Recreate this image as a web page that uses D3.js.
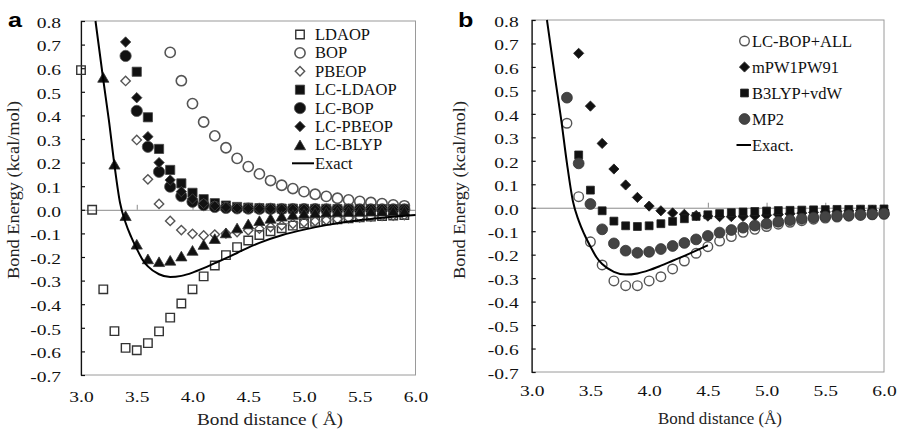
<!DOCTYPE html>
<html>
<head>
<meta charset="utf-8">
<script src="https://cdn.jsdelivr.net/npm/d3@7"></script>
<style>
  body { margin: 0; background: #fff; }
</style>
</head>
<body>
<div class="chart"></div>
<script>
// bond distances (Å), one entry per sampled point
const dist = [3.0, 3.1, 3.2, 3.3, 3.4, 3.5, 3.6, 3.7, 3.8, 3.9, 4.0, 4.1, 4.2, 4.3, 4.4, 4.5,
  4.6, 4.7, 4.8, 4.9, 5.0, 5.1, 5.2, 5.3, 5.4, 5.5, 5.6, 5.7, 5.8, 5.9, 6.0];

// panel a
const ldaop = [0.592, 0.0, -0.337, -0.514, -0.585, -0.595, -0.565, -0.515, -0.457, -0.397, -0.337,
  -0.282, -0.236, -0.192, -0.158, -0.13, -0.107, -0.091, -0.078, -0.067, -0.058, -0.051, -0.045,
  -0.04, -0.036, -0.032, -0.029, -0.026, -0.024, -0.022, null];
const bop = [null, null, null, null, null, null, null, null, 0.667, 0.547, 0.45, 0.372, 0.313, 0.263,
  0.218, 0.183, 0.152, 0.124, 0.104, 0.09, 0.077, 0.066, 0.057, 0.049, 0.042, 0.036, 0.031, 0.026,
  0.021, 0.017, null];
const pbeop = [null, null, null, null, 0.546, 0.296, 0.129, 0.025, -0.047, -0.086, -0.102, -0.109,
  -0.105, -0.1, -0.094, -0.087, -0.08, -0.073, -0.066, -0.059, -0.053, -0.048, -0.043, -0.039,
  -0.035, -0.032, -0.029, -0.026, -0.024, -0.022, null];
const lcLdaop = [null, null, null, null, null, 0.585, 0.392, 0.258, 0.169, 0.112, 0.072, 0.045, 0.028,
  0.018, 0.012, 0.009, 0.007, 0.006, 0.005, 0.005, 0.004, 0.004, 0.004, 0.003, 0.003, 0.003, 0.003,
  0.003, 0.003, 0.003, null];
const lcBop = [null, null, null, null, 0.652, 0.419, 0.267, 0.161, 0.098, 0.058, 0.034, 0.02, 0.012,
  0.008, 0.006, 0.005, 0.004, 0.004, 0.003, 0.003, 0.003, 0.003, 0.002, 0.002, 0.002, 0.002, 0.002,
  0.002, 0.002, 0.002, null];
const lcPbeop = [null, null, null, null, 0.711, 0.475, 0.31, 0.2, 0.126, 0.077, 0.046, 0.027, 0.016,
  0.01, 0.007, 0.005, 0.004, 0.004, 0.003, 0.003, 0.003, 0.003, 0.003, 0.002, 0.002, 0.002, 0.002,
  0.002, 0.002, 0.002, null];
const lcBlyp = [null, null, 0.561, 0.193, -0.025, -0.146, -0.208, -0.22, -0.214, -0.196, -0.172,
  -0.147, -0.122, -0.098, -0.077, -0.06, -0.046, -0.036, -0.027, -0.02, -0.015, -0.012, -0.01,
  -0.009, -0.008, -0.007, -0.006, -0.006, -0.005, -0.005, null];

// panel b
const lcBopAll = [null, null, null, 0.36, 0.047, -0.145, -0.244, -0.312, -0.332, -0.332, -0.312,
  -0.294, -0.261, -0.227, -0.194, -0.166, -0.142, -0.123, -0.105, -0.092, -0.08, -0.07, -0.062,
  -0.055, -0.049, -0.044, -0.04, -0.036, -0.033, -0.03, -0.028];
const mpw1pw91 = [null, null, null, null, 0.658, 0.433, 0.274, 0.165, 0.097, 0.044, 0.007, -0.013,
  -0.022, -0.028, -0.033, -0.036, -0.038, -0.038, -0.037, -0.035, -0.032, -0.029, -0.026, -0.023,
  -0.02, -0.018, -0.016, -0.014, -0.012, -0.011, -0.01];
const b3lypVdw = [null, null, null, null, 0.225, 0.075, -0.013, -0.057, -0.077, -0.08, -0.077,
  -0.068, -0.058, -0.047, -0.037, -0.03, -0.025, -0.021, -0.018, -0.016, -0.014, -0.012, -0.011,
  -0.01, -0.009, -0.008, -0.007, -0.007, -0.006, -0.006, -0.005];
const mp2 = [null, null, null, 0.469, 0.189, 0.016, -0.092, -0.152, -0.183, -0.192, -0.188, -0.176,
  -0.163, -0.15, -0.135, -0.12, -0.106, -0.095, -0.085, -0.076, -0.068, -0.06, -0.053, -0.047,
  -0.042, -0.038, -0.035, -0.032, -0.029, -0.027, -0.025];

// exact reference curve
const exactX = [3.13, 3.2, 3.25, 3.3, 3.35, 3.4, 3.45, 3.5, 3.55, 3.6, 3.7, 3.8, 3.9, 4.0, 4.1, 4.2,
  4.3, 4.4, 4.5, 4.6, 4.8, 5.0, 5.2, 5.4, 5.6, 5.8, 6.0];
const exactY = [0.8, 0.55, 0.38, 0.19, 0.03, -0.055, -0.115, -0.165, -0.21, -0.24, -0.273, -0.285,
  -0.28, -0.266, -0.247, -0.226, -0.205, -0.183, -0.16, -0.14, -0.108, -0.084, -0.065, -0.05,
  -0.039, -0.029, -0.022];

const yTicks = [-0.7, -0.6, -0.5, -0.4, -0.3, -0.2, -0.1, 0.0, 0.1, 0.2, 0.3, 0.4, 0.5, 0.6, 0.7, 0.8];
const xTicks = [3.0, 3.5, 4.0, 4.5, 5.0, 5.5, 6.0];

const seriesA = [
  {name: 'LDAOP', values: ldaop, shape: 'square', size: 72, fill: 'none', stroke: '#333', sw: 1.4},
  {name: 'BOP', values: bop, shape: 'circle', size: 82, fill: 'none', stroke: '#555', sw: 1.6},
  {name: 'PBEOP', values: pbeop, shape: 'diamond', size: 44, fill: 'none', stroke: '#555', sw: 1.4},
  {name: 'LC-LDAOP', values: lcLdaop, shape: 'square', size: 84, fill: '#111', stroke: '#444', sw: 0.8},
  {name: 'LC-BOP', values: lcBop, shape: 'circle', size: 100, fill: '#111', stroke: '#555', sw: 0.8},
  {name: 'LC-PBEOP', values: lcPbeop, shape: 'diamond', size: 54, fill: '#111', stroke: '#444', sw: 0.8},
  {name: 'LC-BLYP', values: lcBlyp, shape: 'triangle', size: 54, fill: '#111', stroke: '#333', sw: 0.8}
];
const seriesB = [
  {name: 'LC-BOP+ALL', values: lcBopAll, shape: 'circle', size: 72, fill: 'none', stroke: '#555', sw: 1.4},
  {name: 'mPW1PW91', values: mpw1pw91, shape: 'diamond', size: 52, fill: '#111', stroke: '#222', sw: 0.8},
  {name: 'B3LYP+vdW', values: b3lypVdw, shape: 'square', size: 62, fill: '#111', stroke: '#222', sw: 0.8},
  {name: 'MP2', values: mp2, shape: 'circle', size: 92, fill: '#444', stroke: '#333', sw: 0.8}
];

const width = 897, height = 429;
const serif = '"Liberation Serif", "Times New Roman", serif';

const svg = d3.select('.chart')
  .append('svg')
    .attr('width', width)
    .attr('height', height);

svg.append('rect').attr('width', width).attr('height', height).attr('fill', '#fff');

const symbolPath = s => {
  const type = s.shape === 'circle' ? d3.symbolCircle
    : s.shape === 'triangle' ? d3.symbolTriangle : d3.symbolSquare;
  return d3.symbol(type, s.size)();
};
const symbolTransform = (s, px, py) => {
  if (s.shape === 'diamond') return `translate(${px},${py}) rotate(45)`;
  if (s.shape === 'triangle') {
    const t = Math.sqrt(s.size / (3 * Math.sqrt(3)));
    return `translate(${px},${py + t / 2})`;
  }
  return `translate(${px},${py})`;
};

const drawPanel = (p) => {
  const x = d3.scaleLinear().domain([3.0, 6.0]).range([p.left, p.right]);
  const y = d3.scaleLinear().domain([-0.7, 0.8]).range([p.bottom, p.top]);
  const g = svg.append('g');

  // plot frame (gray)
  g.append('rect')
    .attr('x', p.left).attr('y', p.top)
    .attr('width', p.right - p.left).attr('height', p.bottom - p.top)
    .attr('fill', 'none').attr('stroke', '#9a9a9a').attr('stroke-width', 1);

  // zero line with small upward ticks
  g.append('g')
    .attr('transform', `translate(0,${y(0)})`)
    .call(d3.axisBottom(x).tickValues(xTicks.slice(1, -1)).tickSize(-5).tickSizeOuter(0).tickFormat(''))
    .call(a => a.selectAll('path, line').attr('stroke', '#8a8a8a'));

  // bottom labels
  g.append('g')
    .attr('transform', `translate(0,${p.bottom})`)
    .call(d3.axisBottom(x).tickValues(xTicks).tickSize(0).tickPadding(p.xPad).tickFormat(d => d.toFixed(1)))
    .call(a => a.select('.domain').remove())
    .call(a => a.selectAll('text')
      .style('font-family', serif)
      .style('font-size', '15px')
      .attr('fill', '#111')
      .attr('transform', 'scale(1.3,1)'));

  // left axis, inward ticks
  g.append('g')
    .attr('transform', `translate(${p.left},0)`)
    .call(d3.axisLeft(y).tickValues(yTicks).tickSize(-4).tickSizeOuter(0).tickFormat(d => d.toFixed(1)))
    .call(a => a.selectAll('path, line').attr('stroke', '#111').attr('stroke-width', 1.2))
    .call(a => a.selectAll('text')
      .attr('x', null)
      .style('font-family', serif)
      .style('font-size', '15px')
      .attr('fill', '#111')
      .attr('transform', `translate(${-p.yPad},1.5) scale(1.3,1)`));

  // markers
  p.series.forEach(s => {
    const pts = dist.map((d, i) => ({d, v: s.values[i]})).filter(o => o.v !== null);
    g.append('g').selectAll('path')
      .data(pts)
      .enter()
      .append('path')
      .attr('d', symbolPath(s))
      .attr('transform', o => symbolTransform(s, x(o.d), y(o.v)))
      .attr('fill', s.fill)
      .attr('stroke', s.stroke)
      .attr('stroke-width', s.sw);
  });

  // exact curve
  const exact = exactX.map((d, i) => ({d, v: exactY[i]})).filter(o => o.d <= p.exactMax);
  g.append('path')
    .datum(exact)
    .attr('fill', 'none')
    .attr('stroke', '#000')
    .attr('stroke-width', 2)
    .attr('d', d3.line().x(o => x(o.d)).y(o => y(o.v)).curve(d3.curveMonotoneX));

  // legend
  const lg = g.append('g');
  p.series.forEach((s, i) => {
    const ly = p.legY + i * p.legStep;
    lg.append('path')
      .attr('d', symbolPath(s))
      .attr('transform', symbolTransform(s, p.legX, ly))
      .attr('fill', s.fill).attr('stroke', s.stroke).attr('stroke-width', s.sw);
    lg.append('text')
      .attr('x', p.legTextX).attr('y', ly + 5.5)
      .style('font-family', serif)
      .style('font-size', p.legFont + 'px')
      .attr('fill', '#111')
      .text(s.name);
  });
  const ey = p.legY + p.series.length * p.legStep;
  lg.append('line')
    .attr('x1', p.legX - 8).attr('x2', p.legTextX - 1)
    .attr('y1', ey).attr('y2', ey)
    .attr('stroke', '#000').attr('stroke-width', 2);
  lg.append('text')
    .attr('x', p.legTextX).attr('y', ey + 5.5)
    .style('font-family', serif)
    .style('font-size', p.legFont + 'px')
    .attr('fill', '#111')
    .text(p.exactName);

  // titles
  g.append('text')
    .attr('transform', `translate(${p.yTitleX},${p.yTitleY}) rotate(-90)`)
    .attr('text-anchor', 'middle')
    .style('font-family', serif)
    .style('font-size', '16.5px')
    .attr('fill', '#222')
    .attr('textLength', 178)
    .attr('lengthAdjust', 'spacingAndGlyphs')
    .text('Bond Energy (kcal/mol)');

  g.append('text')
    .attr('x', p.xTitleX - p.xTitleLen / 2).attr('y', p.xTitleY)
    .style('font-family', serif)
    .style('font-size', '16.5px')
    .attr('fill', '#222')
    .attr('textLength', p.xTitleLen)
    .attr('lengthAdjust', 'spacingAndGlyphs')
    .text(p.xTitle);

  g.append('text')
    .attr('transform', `translate(${p.letterX},27) scale(1.2,1)`)
    .style('font-family', '"Liberation Sans", Arial, sans-serif')
    .style('font-weight', 'bold')
    .style('font-size', '21px')
    .attr('fill', '#000')
    .text(p.letter);
};

drawPanel({
  left: 81, right: 415.5, top: 21, bottom: 375, yPad: 20, xPad: 16,
  series: seriesA, exactMax: 6.0, exactName: 'Exact',
  legX: 300, legTextX: 315, legY: 34.5, legStep: 18.4, legFont: 16.5,
  yTitleX: 19, yTitleY: 190, xTitle: 'Bond distance ( Å)', xTitleX: 270, xTitleY: 424.5, xTitleLen: 146,
  letter: 'a', letterX: 8
});

drawPanel({
  left: 531.7, right: 884, top: 20, bottom: 372, yPad: 13, xPad: 13,
  series: seriesB, exactMax: 4.5, exactName: 'Exact.',
  legX: 744.5, legTextX: 752, legY: 41, legStep: 26, legFont: 16.5,
  yTitleX: 465, yTitleY: 190, xTitle: 'Bond distance (Å)', xTitleX: 720, xTitleY: 423.5, xTitleLen: 124,
  letter: 'b', letterX: 458
});
</script>
</body>
</html>
